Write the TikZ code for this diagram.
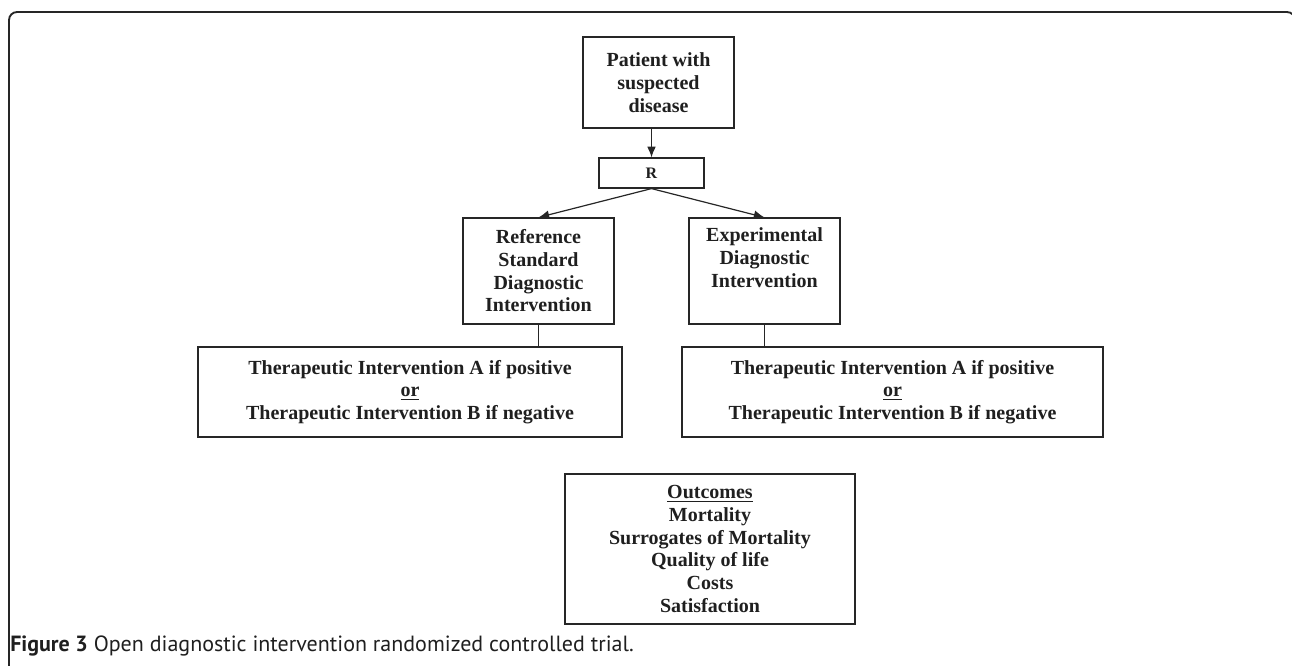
\documentclass[tikz,border=0pt]{standalone}
\usepackage{fontspec}
\setmainfont{Liberation Serif}
\newfontfamily\capfont{PT Sans}
\usetikzlibrary{arrows.meta}

\begin{document}
\begin{tikzpicture}[x=0.75pt,y=-0.75pt,
        box/.style={draw=black!85,line width=0.9pt,align=center,inner sep=0pt,
            text=black!88,font=\fontsize{15}{17}\selectfont\bfseries},
        link/.style={draw=black!85,line width=0.9pt},
        >={Latex[length=8pt,width=6.5pt]}]
        \useasboundingbox (0,0) rectangle (1292,665);
        \clip (0,0) rectangle (1292,665);
        % frame
        \draw[line width=1.4pt,black!85,rounded corners=6pt] (9,690) -- (9,12) -- (1295,12) -- (1295,690);
        \node[box,minimum width=151*0.75pt,minimum height=91*0.75pt] (patient) at (658.5,82.5) {Patient with\\suspected\\disease};
        \node[box,minimum width=105*0.75pt,minimum height=30*0.75pt,font=\fontsize{12}{14}\selectfont\bfseries] (rand) at (651.5,173) {R};
        \node[box,minimum width=151*0.75pt,minimum height=106*0.75pt] (refdx) at (538.5,271) {Reference\\Standard\\Diagnostic\\Intervention};
        \node[box,minimum width=151*0.75pt,minimum height=106*0.75pt,text depth=20pt] (expdx) at (764.5,271) {Experimental\\Diagnostic\\Intervention};
        \node[box,minimum width=424*0.75pt,minimum height=90*0.75pt] (reftx) at (410,392) {Therapeutic Intervention A if positive\\\underline{or}\\Therapeutic Intervention B if negative};
        \node[box,minimum width=421*0.75pt,minimum height=90*0.75pt] (exptx) at (892.5,392) {Therapeutic Intervention A if positive\\\underline{or}\\Therapeutic Intervention B if negative};
        \node[box,minimum width=290*0.75pt,minimum height=150*0.75pt] (outc) at (710,549) {\underline{Outcomes}\\Mortality\\Surrogates of Mortality\\Quality of life\\Costs\\Satisfaction};
        \draw[link,->] (patient.south -| rand) -- (rand.north);
        \draw[link,->] (rand.south) -- (refdx.north);
        \draw[link,->] (rand.south) -- (expdx.north);
        \draw[link] (refdx.south) -- (refdx.south |- reftx.north);
        \draw[link] (expdx.south) -- (expdx.south |- exptx.north);
        \node[anchor=base west,inner sep=0pt,text=black!88,font=\capfont\fontsize{16.5}{18}\selectfont] (caption) at (10,651) {\textbf{Figure 3} Open diagnostic intervention randomized controlled trial.};
    \end{tikzpicture}
\end{document}
